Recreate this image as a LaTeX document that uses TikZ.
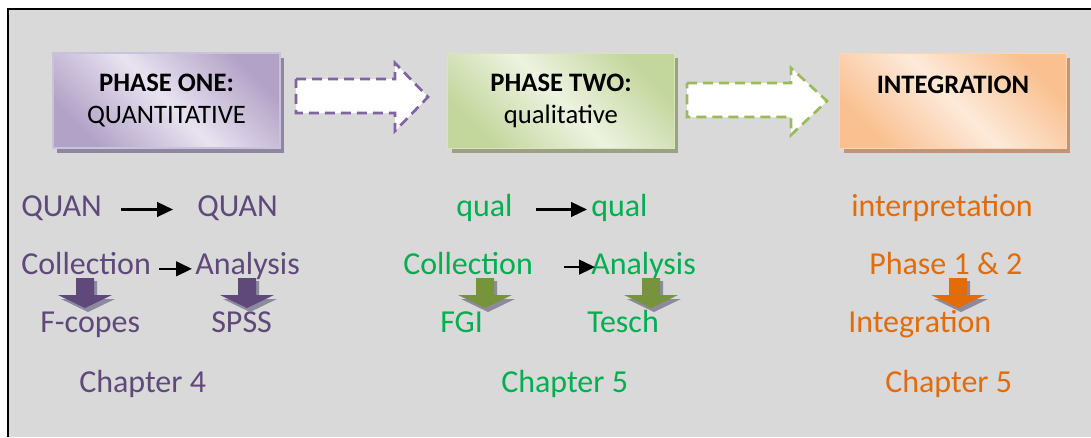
\documentclass[tikz,border=0pt]{standalone}
\usepackage{fontspec}
\setmainfont{Carlito}
\usetikzlibrary{arrows.meta,shadows}

\definecolor{fundo}{HTML}{D9D9D9}
\definecolor{roxo}{HTML}{5F497A}
\definecolor{roxoseta}{HTML}{8064A2}
\definecolor{roxoesc}{HTML}{B3A2C7}
\definecolor{roxocla}{HTML}{E8E3F0}
\definecolor{roxobor}{HTML}{CCC1DA}
\definecolor{roxosom}{HTML}{8F86A0}
\definecolor{verde}{HTML}{00B050}
\definecolor{verdeseta}{HTML}{9BBB59}
\definecolor{verdeesc}{HTML}{C3D69B}
\definecolor{verdecla}{HTML}{EDF3E1}
\definecolor{verdebor}{HTML}{D7E4BD}
\definecolor{verdesom}{HTML}{9CA183}
\definecolor{oliva}{HTML}{77933C}
\definecolor{laranja}{HTML}{E36C09}
\definecolor{laranjaesc}{HTML}{FAC090}
\definecolor{laranjacla}{HTML}{FDEADA}
\definecolor{laranjabor}{HTML}{FCD5B5}
\definecolor{laranjasom}{HTML}{BF9477}
\definecolor{sombra}{HTML}{8C8A9C}

% seta grossa para baixo: x do centro, cor
\newcommand{\setabaixo}[2]{%
  \fill[sombra] (#1-6,281) -- (#1+12,281) -- (#1+12,299) -- (#1+30,299) -- (#1+3,312) -- (#1-24,299) -- (#1-6,299) -- cycle;
  \fill[#2] (#1-9,278) -- (#1+9,278) -- (#1+9,295) -- (#1+27,295) -- (#1,308) -- (#1-27,295) -- (#1-9,295) -- cycle;
}

\begin{document}
\begin{tikzpicture}[x=0.75pt, y=-0.75pt,
    caixa/.style={minimum width=170pt, minimum height=71pt, line width=1.2pt, align=center,
                  font=\fontsize{20}{24}\selectfont, text=black},
    roxa/.style={caixa, draw=roxobor, top color=roxoesc, bottom color=roxoesc, middle color=roxocla, shading angle=-45,
                 drop shadow={shadow xshift=3pt, shadow yshift=-3.5pt, fill=roxosom, opacity=1}},
    verdec/.style={caixa, draw=verdebor, top color=verdeesc, bottom color=verdeesc, middle color=verdecla, shading angle=-45,
                 drop shadow={shadow xshift=3pt, shadow yshift=-3.5pt, fill=verdesom, opacity=1}},
    laranjac/.style={caixa, draw=laranjabor, top color=laranjaesc, bottom color=laranjaesc, middle color=laranjacla, shading angle=-45,
                 drop shadow={shadow xshift=3pt, shadow yshift=-3.5pt, fill=laranjasom, opacity=1}},
    texto/.style={font=\fontsize{24}{28}\selectfont, inner sep=0pt, anchor=base west},
    tracejada/.style={fill=white, line width=2pt, dash pattern=on 7.5pt off 4.5pt},
    seta/.style={-{Triangle[length=12pt,width=11pt]}, line width=1.8pt, black}]

    % fundo e moldura
    \useasboundingbox (0,0) rectangle (1091,437);
    \fill[white] (0,0) rectangle (1091,437);
    \fill[fundo] (8,9) rectangle (1091,437);
    \draw[line width=1.8pt] (8,437) -- (8,9) -- (1091,9);

    % caixas das fases
    \node[roxa] (um) at (166.5,100.5) {\textbf{PHASE ONE:}\\QUANTITATIVE};
    \node[verdec] (dois) at (561,101) {\textbf{PHASE TWO:}\\qualitative};
    \node[laranjac] (integ) at (953,101) {\textbf{INTEGRATION}\\~};

    % setas tracejadas entre as caixas
    \draw[tracejada, draw=roxoseta] (296,79) -- (395,79) -- (395,63) -- (428,97) -- (395,131) -- (395,113) -- (296,113) -- cycle;
    \draw[tracejada, draw=verdeseta] (687,83) -- (791,83) -- (791,68) -- (827,101) -- (791,135) -- (791,117) -- (687,117) -- cycle;

    % fase um
    \node[texto, text=roxo] (quanA) at (21,216) {QUAN};
    \node[texto, text=roxo] (quanB) at (197,216) {QUAN};
    \node[texto, text=roxo] (colA) at (21,274) {Collection};
    \node[texto, text=roxo] (anaA) at (195,274) {Analysis};
    \node[texto, text=roxo] (fcopes) at (40,332) {F-copes};
    \node[texto, text=roxo] (spss) at (211,332) {SPSS};
    \node[texto, text=roxo] (chapA) at (79,392) {Chapter 4};

    % fase dois
    \node[texto, text=verde] (qualA) at (456,216) {qual};
    \node[texto, text=verde] (qualB) at (591,216) {qual};
    \node[texto, text=verde] (colB) at (403,274) {Collection};
    \node[texto, text=verde] (anaB) at (591,274) {Analysis};
    \node[texto, text=verde] (fgi) at (440,332) {FGI};
    \node[texto, text=verde] (tesch) at (587,332) {Tesch};
    \node[texto, text=verde] (chapB) at (501,392) {Chapter 5};

    % integracao
    \node[texto, text=laranja] (interp) at (851,216) {interpretation};
    \node[texto, text=laranja] (fases) at (869,274) {Phase 1 \& 2};
    \node[texto, text=laranja] (integB) at (848,332) {Integration};
    \node[texto, text=laranja] (chapC) at (885,392) {Chapter 5};

    % setas pretas
    \draw[seta, shorten <=14pt, shorten >=18pt] ([yshift=2.5pt]quanA.mid east) -- ([yshift=2.5pt]quanB.mid west);
    \draw[seta, shorten <=6pt, shorten >=2.25pt] ([yshift=1.5pt]colA.mid east) -- ([yshift=1.5pt]anaA.mid west);
    \draw[seta, shorten <=17pt, shorten >=3pt] ([yshift=2.5pt]qualA.mid east) -- ([yshift=2.5pt]qualB.mid west);
    \draw[seta, shorten <=23pt, shorten >=-3pt] ([yshift=2.8pt]colB.mid east) -- ([yshift=2.8pt]anaB.mid west);

    % setas para baixo
    \foreach \x/\c in {85/roxo, 247/roxo, 485/oliva, 651/oliva, 958/laranja}
        {\setabaixo{\x}{\c}}

\end{tikzpicture}
\end{document}
